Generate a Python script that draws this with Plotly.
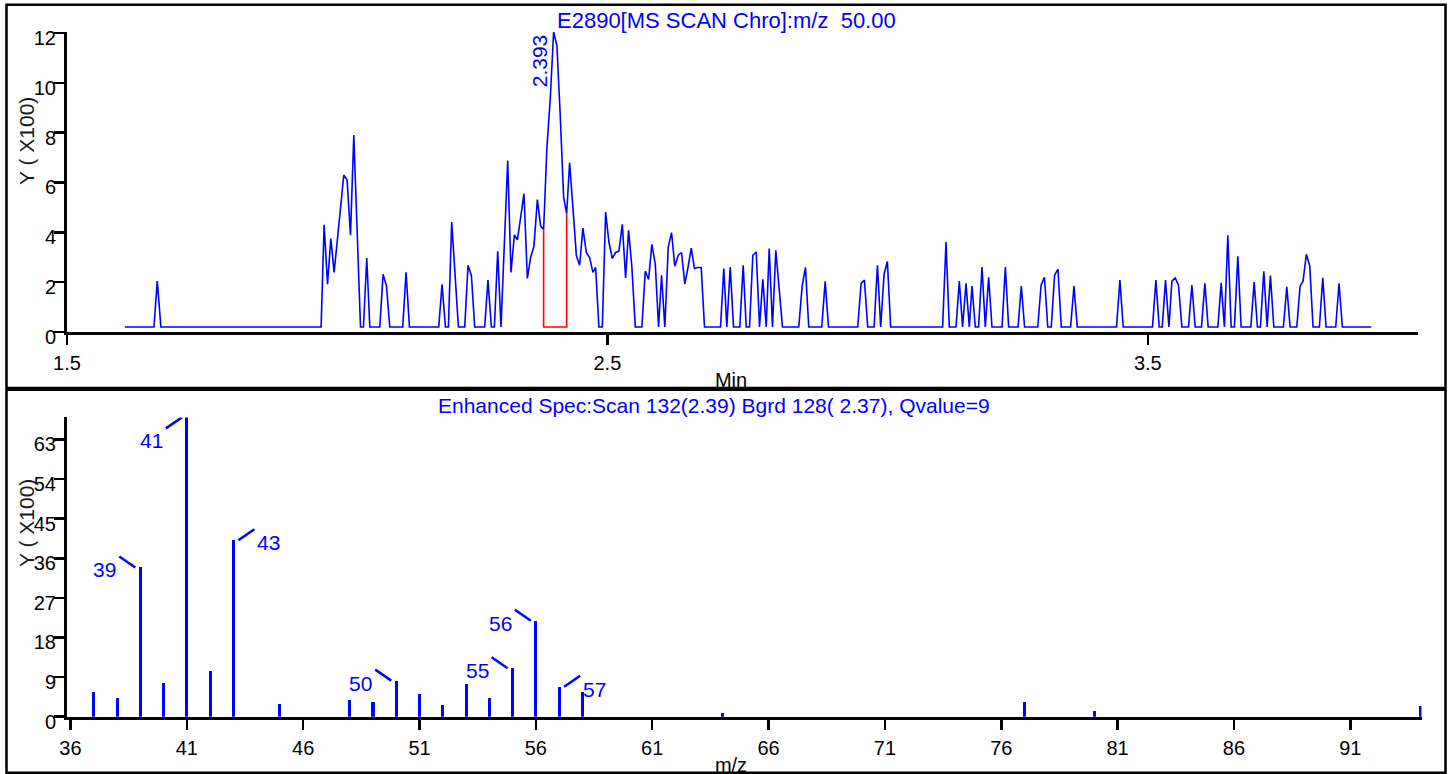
import plotly.graph_objects as go

# ---- Extracted-ion chromatogram, m/z 50.00 (retention time in min, intensity in hundreds) ----
chrom_time = [
    1.6072, 1.6609, 1.6670, 1.6738, 1.9702, 1.9758, 1.9821, 1.9882, 1.9943, 2.0122,
    2.0183, 2.0246, 2.0307, 2.0368, 2.0431, 2.0486, 2.0547, 2.0603, 2.0788, 2.0849,
    2.0912, 2.0973, 2.1213, 2.1274, 2.1337, 2.1879, 2.1940, 2.2003, 2.2058, 2.2119,
    2.2243, 2.2360, 2.2421, 2.2484, 2.2544, 2.2729, 2.2790, 2.2853, 2.2909, 2.2970,
    2.3031, 2.3155, 2.3216, 2.3279, 2.3334, 2.3395, 2.3456, 2.3519, 2.3580, 2.3641,
    2.3704, 2.3765, 2.3820, 2.3881, 2.3944, 2.4005, 2.4066, 2.4129, 2.4190, 2.4246,
    2.4301, 2.4362, 2.4425, 2.4486, 2.4547, 2.4610, 2.4671, 2.4732, 2.4782, 2.4843,
    2.4906, 2.4967, 2.5028, 2.5091, 2.5152, 2.5213, 2.5276, 2.5337, 2.5392, 2.5453,
    2.5516, 2.5638, 2.5701, 2.5762, 2.5823, 2.5886, 2.5947, 2.6002, 2.6063, 2.6126,
    2.6187, 2.6248, 2.6311, 2.6372, 2.6433, 2.6496, 2.6551, 2.6612, 2.6673, 2.6736,
    2.6797, 2.7093, 2.7154, 2.7210, 2.7273, 2.7334, 2.7450, 2.7513, 2.7569, 2.7630,
    2.7691, 2.7754, 2.7815, 2.7876, 2.7939, 2.7994, 2.8055, 2.8116, 2.8178, 2.8240,
    2.8541, 2.8604, 2.8665, 2.8726, 2.8967, 2.9030, 2.9091, 2.9632, 2.9695, 2.9756,
    2.9817, 2.9935, 2.9997, 3.0057, 3.0120, 3.0181, 3.0242, 3.1203, 3.1266, 3.1327,
    3.1451, 3.1512, 3.1573, 3.1636, 3.1697, 3.1747, 3.1808, 3.1869, 3.1932, 3.1993,
    3.2055, 3.2117, 3.2303, 3.2364, 3.2425, 3.2599, 3.2659, 3.2720, 3.2964, 3.3025,
    3.3088, 3.3149, 3.3214, 3.3275, 3.3338, 3.3399, 3.3571, 3.3634, 3.3695, 3.4421,
    3.4484, 3.4545, 3.5087, 3.5150, 3.5211, 3.5267, 3.5328, 3.5391, 3.5446, 3.5507,
    3.5568, 3.5631, 3.5753, 3.5816, 3.5877, 3.5993, 3.6056, 3.6117, 3.6297, 3.6357,
    3.6418, 3.6481, 3.6542, 3.6603, 3.6666, 3.6727, 3.6907, 3.6968, 3.7029, 3.7084,
    3.7147, 3.7208, 3.7269, 3.7332, 3.7509, 3.7572, 3.7633, 3.7757, 3.7818, 3.7873,
    3.7934, 3.7997, 3.8058, 3.8175, 3.8238, 3.8299, 3.8477, 3.8539, 3.8600, 3.9136,
]
chrom_int = [
    0.20, 0.20, 2.04, 0.20, 0.20, 4.30, 1.92, 3.75, 2.39, 6.30,
    6.10, 3.88, 7.90, 3.95, 0.20, 0.20, 2.97, 0.20, 0.20, 2.32,
    1.85, 0.20, 0.20, 2.40, 0.20, 0.20, 1.91, 0.20, 0.20, 4.41,
    0.20, 0.20, 2.68, 2.25, 0.20, 0.20, 2.08, 0.20, 0.20, 3.24,
    0.20, 6.88, 2.39, 3.90, 3.70, 4.60, 5.55, 2.15, 3.00, 3.44,
    5.31, 4.25, 4.11, 7.41, 9.41, 12.05, 11.48, 8.60, 5.41, 4.75,
    6.79, 5.00, 3.08, 2.68, 4.17, 3.19, 2.99, 2.39, 2.59, 0.20,
    0.20, 4.81, 3.61, 2.95, 3.19, 3.24, 4.32, 2.17, 4.08, 2.61,
    0.20, 0.20, 2.45, 2.11, 3.52, 2.72, 0.20, 2.28, 0.20, 3.41,
    3.99, 2.64, 3.08, 3.19, 1.92, 2.64, 3.37, 2.55, 2.59, 2.59,
    0.20, 0.20, 2.55, 0.20, 2.61, 0.20, 0.20, 2.68, 0.20, 0.20,
    3.08, 3.21, 0.20, 2.11, 0.20, 3.35, 0.20, 3.28, 1.80, 0.20,
    0.20, 1.84, 2.59, 0.20, 0.20, 2.03, 0.20, 0.20, 1.95, 2.08,
    0.20, 0.20, 2.68, 0.20, 2.32, 2.83, 0.20, 0.20, 3.61, 0.20,
    0.20, 2.04, 0.20, 1.95, 0.20, 1.84, 0.20, 0.20, 2.61, 0.20,
    2.19, 0.20, 0.20, 2.61, 0.20, 0.20, 1.84, 0.20, 0.20, 1.88,
    2.19, 0.20, 0.20, 2.28, 2.52, 0.20, 0.20, 1.84, 0.20, 0.20,
    2.08, 0.20, 0.20, 2.08, 0.20, 0.20, 2.08, 0.20, 2.04, 2.17,
    1.88, 0.20, 0.20, 1.88, 0.20, 0.20, 1.95, 0.20, 0.20, 1.97,
    0.20, 3.88, 0.20, 0.20, 3.04, 0.20, 0.20, 2.00, 0.20, 0.20,
    2.44, 0.20, 2.27, 0.20, 0.20, 1.81, 0.20, 0.20, 1.84, 2.04,
    3.12, 2.65, 0.20, 0.20, 2.17, 0.20, 0.20, 1.95, 0.20, 0.20,
]
chrom_xticks = [1.5, 2.5, 3.5]
chrom_yticks = [0, 2, 4, 6, 8, 10, 12]

peak_rt = 2.393
# scans bounding the marked spectrum window
window_start, window_end = 2.3820, 2.4246

# ---- Enhanced spectrum, scan 132 (m/z vs intensity in hundreds) ----
spec_mz = [37, 38, 39, 40, 41, 42, 43, 45, 48, 49, 50, 51, 52, 53, 54, 55, 56, 57, 58, 64, 77, 80, 94]
spec_int = [5.5, 4.2, 33.9, 7.7, 68.0, 10.4, 40.1, 2.9, 3.9, 3.3, 8.2, 5.2, 2.7, 7.4, 4.2,
            11.0, 21.8, 6.8, 5.7, 0.8, 3.3, 1.3, 2.5]
spec_labels = [39, 41, 43, 50, 55, 56, 57]
spec_xticks = [36, 41, 46, 51, 56, 61, 66, 71, 76, 81, 86, 91]
spec_yticks = [0, 9, 18, 27, 36, 45, 54, 63]

chrom_title = "E2890[MS SCAN Chro]:m/z\u00a0\u00a050.00"
spec_title = "Enhanced Spec:Scan 132(2.39) Bgrd 128(\u00a02.37), Qvalue=9"

# ---- styling ----
W, H = 1453, 774
FONT = "Liberation Sans"
BLUE = "#0000ff"


def fx(px):
    return px / W


def fy(py):
    return 1 - py / H


fig = go.Figure()

fig.add_trace(go.Scatter(
    x=chrom_time, y=chrom_int, mode="lines",
    line=dict(color=BLUE, width=1.6), xaxis="x", yaxis="y", showlegend=False,
))

# red outline of the selected scan window
i0 = chrom_time.index(window_start)
i1 = chrom_time.index(window_end)
base = min(chrom_int)
fig.add_trace(go.Scatter(
    x=[window_start, window_start, window_end, window_end],
    y=[chrom_int[i0], base, base, chrom_int[i1]],
    mode="lines", line=dict(color="#ff0000", width=1.6),
    xaxis="x", yaxis="y", showlegend=False,
))

fig.add_trace(go.Bar(
    x=spec_mz, y=spec_int, width=0.13, marker=dict(color=BLUE, line=dict(width=0)),
    xaxis="x2", yaxis="y2", showlegend=False,
))

# axis titles that are partly hidden under the panel frame
fig.add_trace(go.Scatter(
    x=[fx(731)], y=[(388 - 382) / 383], mode="text", text=["Min"],
    textfont=dict(family=FONT, size=20, color="black"), textposition="middle center",
    xaxis="x3", yaxis="y3", showlegend=False, cliponaxis=True,
))
fig.add_trace(go.Scatter(
    x=[fx(731)], y=[(772 - 767) / 382], mode="text", text=["m/z"],
    textfont=dict(family=FONT, size=20, color="black"), textposition="middle center",
    xaxis="x4", yaxis="y4", showlegend=False, cliponaxis=True,
))

axis_style = dict(
    showline=True, linecolor="black", linewidth=3,
    ticks="outside", ticklen=10, tickwidth=2.5, tickcolor="black",
    showgrid=False, zeroline=False, fixedrange=True, automargin=False,
    tickfont=dict(family=FONT, size=20, color="black"),
)
yaxis_extra = dict(ticklabelshift=5, ticklabelstandoff=-6)
xaxis_extra = dict(ticklabelstandoff=1)
hidden = dict(visible=False, range=[0, 1], fixedrange=True, automargin=False)

annotations = [
    dict(text=chrom_title, x=fx(726.5), y=fy(20.5), xref="paper", yref="paper",
         xanchor="center", yanchor="middle", showarrow=False,
         font=dict(family=FONT, size=22, color=BLUE)),
    dict(text=spec_title, x=fx(713.5), y=fy(405), xref="paper", yref="paper",
         xanchor="center", yanchor="middle", showarrow=False,
         font=dict(family=FONT, size=21, color=BLUE)),
    dict(text="Y ( X100)", x=fx(26), y=fy(141), xref="paper", yref="paper",
         xanchor="center", yanchor="middle", textangle=-90, showarrow=False,
         font=dict(family=FONT, size=21, color="#1a1a1a")),
    dict(text="Y ( X100)", x=fx(26), y=fy(523), xref="paper", yref="paper",
         xanchor="center", yanchor="middle", textangle=-90, showarrow=False,
         font=dict(family=FONT, size=21, color="#1a1a1a")),
    dict(text=f"{peak_rt:.3f}", x=peak_rt, y=max(chrom_int), xref="x", yref="y",
         xanchor="right", yanchor="top", textangle=-90, showarrow=False,
         xshift=3, yshift=-1, font=dict(family=FONT, size=21, color=BLUE)),
]

shapes = [
    dict(type="rect", xref="paper", yref="paper", x0=fx(6.5), x1=fx(1445.5),
         y0=fy(388), y1=fy(4.7), line=dict(color="black", width=2.5),
         fillcolor="rgba(0,0,0,0)", layer="above"),
    dict(type="rect", xref="paper", yref="paper", x0=fx(6.5), x1=fx(1445.5),
         y0=fy(772.8), y1=fy(389.7), line=dict(color="black", width=2.5),
         fillcolor="rgba(0,0,0,0)", layer="above"),
]

# peak labels with short leader ticks: side (-1 left, +1 right), vertical direction
label_side = {39: (-1, 1), 41: (-1, -1), 43: (1, 1), 50: (-1, 1), 55: (-1, 1), 56: (-1, 1), 57: (1, 1)}
for mz in spec_labels:
    h = spec_int[spec_mz.index(mz)]
    sx, sy = label_side[mz]
    shapes.append(dict(
        type="line", xref="x2", yref="y2", xsizemode="pixel", ysizemode="pixel",
        xanchor=mz, yanchor=h, x0=5 * sx, x1=21 * sx, y0=0, y1=11 * sy,
        line=dict(color=BLUE, width=2.5),
    ))
    annotations.append(dict(
        text=str(mz), x=mz, y=h, xref="x2", yref="y2",
        xanchor="right" if sx < 0 else "left", yanchor="top",
        xshift=22 * sx, yshift=(11 if sy > 0 else -10), showarrow=False,
        font=dict(family=FONT, size=21, color=BLUE),
    ))

fig.update_layout(
    width=W, height=H, margin=dict(l=0, r=0, t=0, b=0, autoexpand=False),
    paper_bgcolor="white", plot_bgcolor="rgba(0,0,0,0)",
    showlegend=False, bargap=0,
    xaxis=dict(domain=[fx(67), fx(1418)], range=[1.5, 4.0], anchor="y",
               tickvals=chrom_xticks, ticktext=[f"{v:.1f}" for v in chrom_xticks],
               **axis_style, **xaxis_extra),
    yaxis=dict(domain=[fy(332), fy(31.7)], range=[0, 12.05], anchor="x",
               tickvals=chrom_yticks, ticktext=[str(v) for v in chrom_yticks],
               **axis_style, **yaxis_extra),
    xaxis2=dict(domain=[fx(67), fx(1421.5)], range=[35.85, 94.06], anchor="y2",
                tickvals=spec_xticks, ticktext=[str(v) for v in spec_xticks],
                **axis_style, **xaxis_extra),
    yaxis2=dict(domain=[fy(716.7), fy(417.4)], range=[0, 68], anchor="x2",
                tickvals=spec_yticks, ticktext=[str(v) for v in spec_yticks],
                **axis_style, **yaxis_extra),
    xaxis3=dict(domain=[0, 1], anchor="y3", **hidden),
    yaxis3=dict(domain=[fy(388), fy(5)], anchor="x3", **hidden),
    xaxis4=dict(domain=[0, 1], anchor="y4", **hidden),
    yaxis4=dict(domain=[fy(772), fy(390)], anchor="x4", **hidden),
    annotations=annotations,
    shapes=shapes,
)

fig.write_html("out.html", config={"staticPlot": True})
